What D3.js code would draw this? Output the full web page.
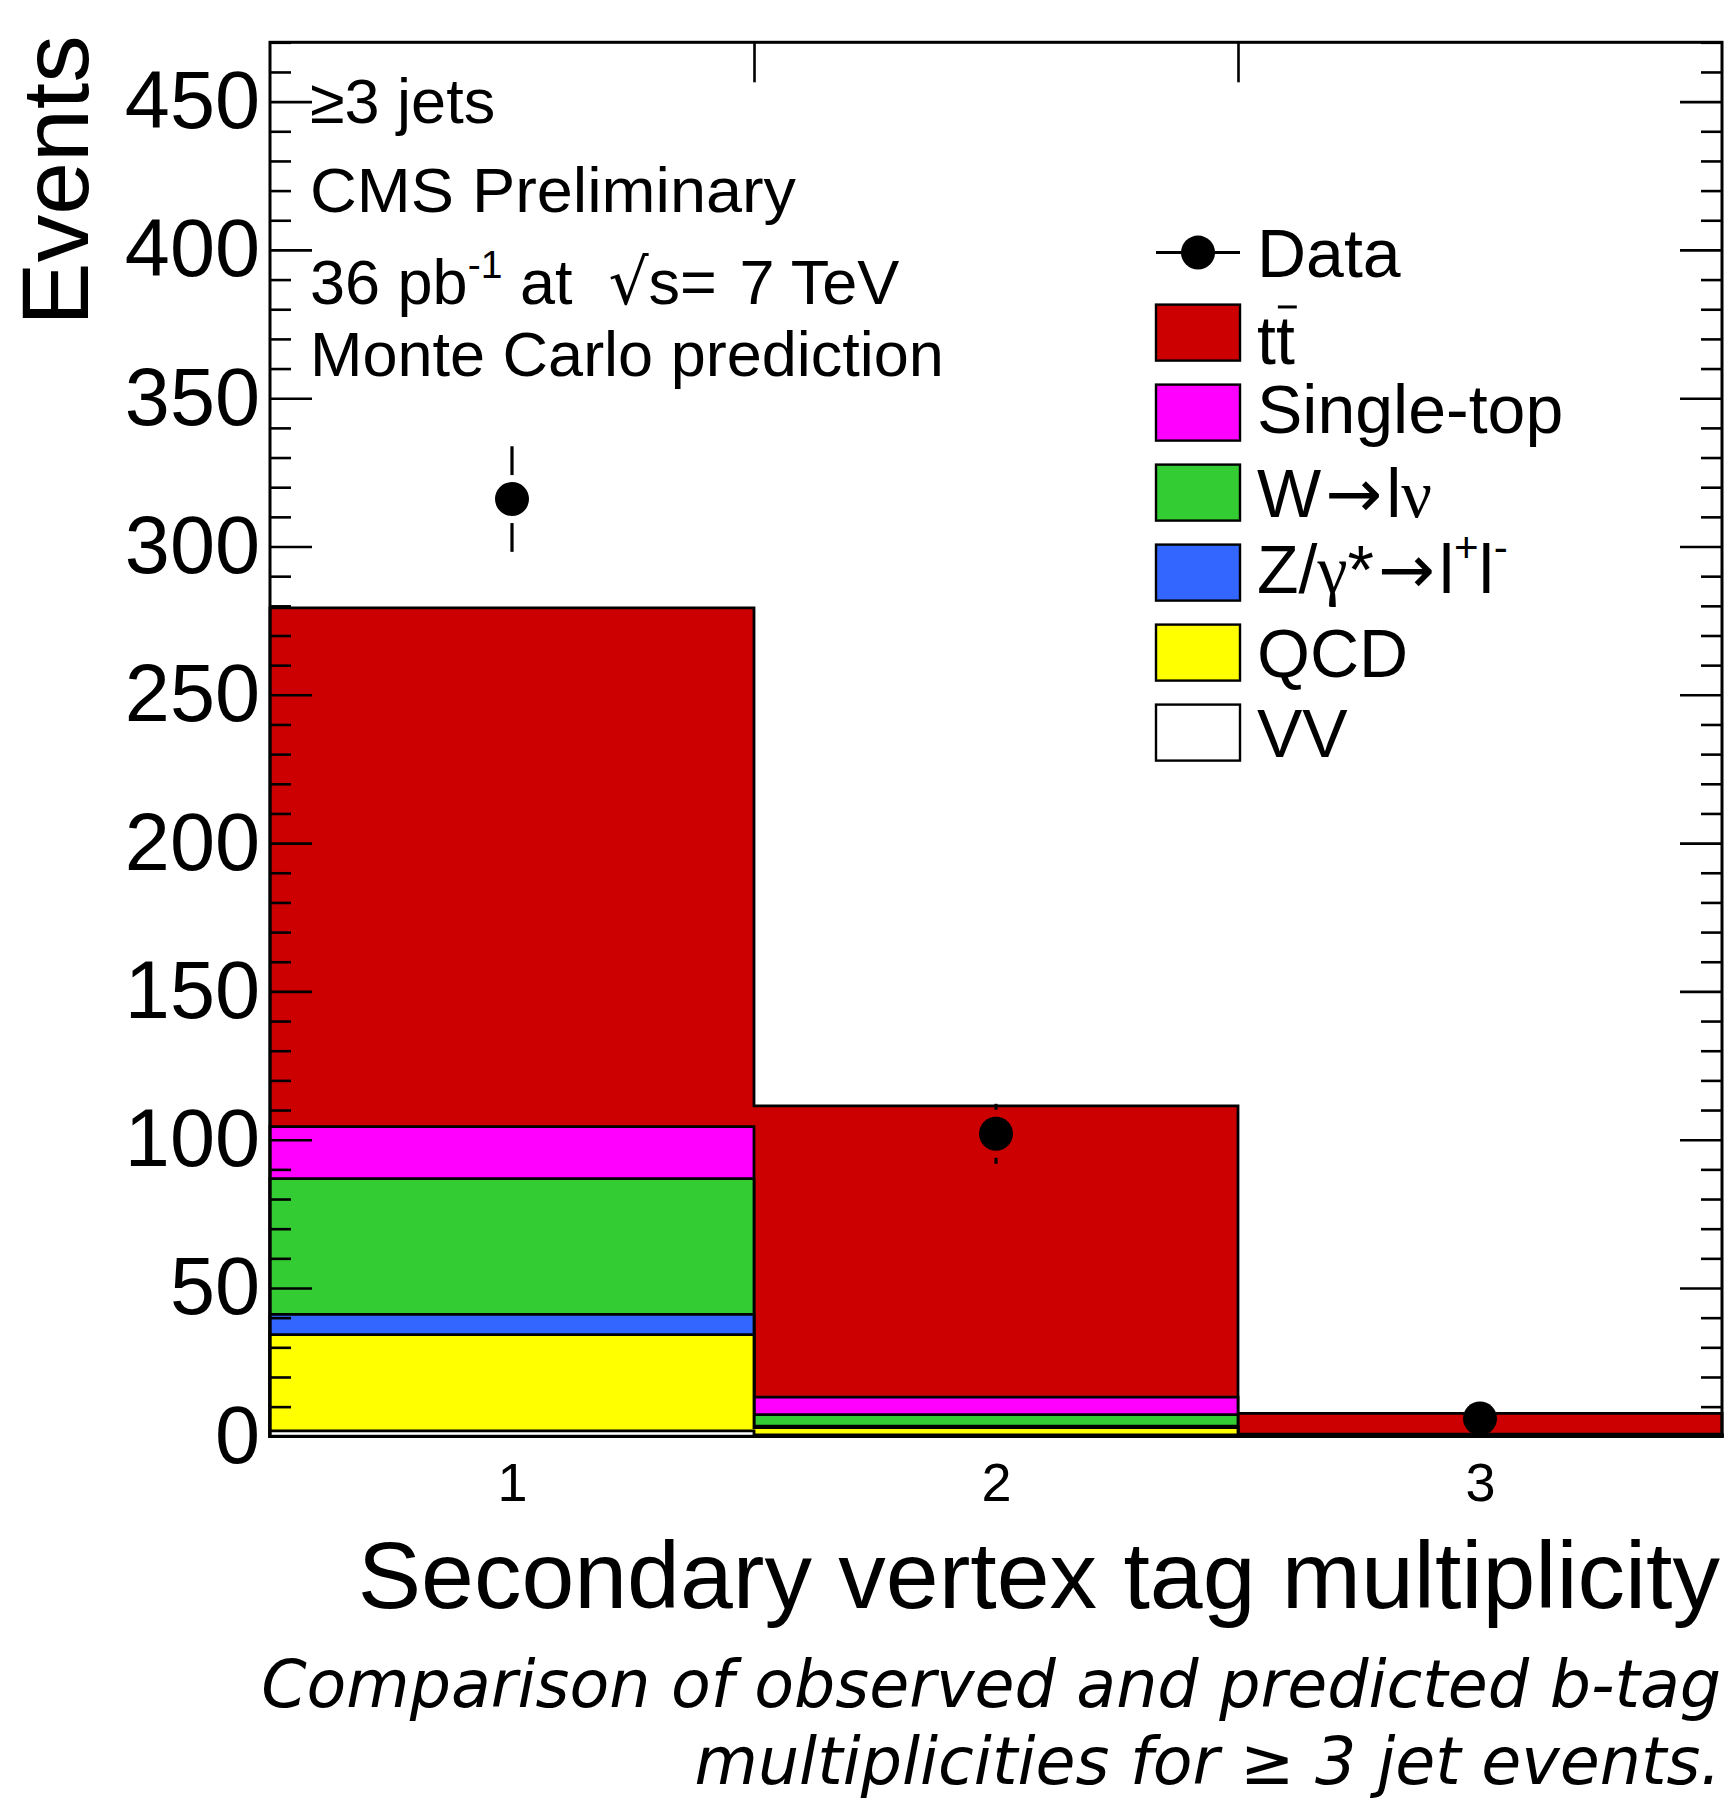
<!DOCTYPE html>
<html>
<head>
<meta charset="utf-8">
<script src="https://cdn.jsdelivr.net/npm/d3@7"></script>
<style>
  html, body { margin: 0; padding: 0; background: #fff; }
  svg { display: block; }
  text { font-family: "Liberation Sans", Arial, Helvetica, sans-serif; fill: #000; }
</style>
</head>
<body>
<svg id="chart" width="1730" height="1800"></svg>
<script>
// ---------------- data ----------------
const categories = ["1", "2", "3"];          // tag multiplicity bins
const binCenters = [1, 2, 3];
const vv        = [1.8, 0.5, 0.0];
const qcd       = [32.5, 2.4, 0.1];
const zll       = [6.8, 0.5, 0.0];
const wlv       = [45.8, 3.9, 0.2];
const singleTop = [17.5, 5.9, 0.4];
const ttbar     = [174.9, 98.2, 7.0];
const dataCounts = [316, 102, 6];
const dataErrors = [17.8, 10.1, 2.4];
const yTicks = [0, 50, 100, 150, 200, 250, 300, 350, 400, 450];
const yMinorTicks = d3.range(0, 471, 10);
const xEdges = [0.5, 1.5, 2.5, 3.5];

const seriesKeys   = ["vv", "qcd", "zll", "wlv", "singleTop", "ttbar"];
const seriesValues = { vv, qcd, zll, wlv, singleTop, ttbar };
const seriesColors = { vv: "#ffffff", qcd: "#ffff00", zll: "#3366ff", wlv: "#33cc33", singleTop: "#ff00ff", ttbar: "#cc0000" };

const legendKeys = ["data", "ttbar", "singleTop", "wlv", "zll", "qcd", "vv"];

const infoLines = ["≥3 jets", "CMS Preliminary", "36 pb-1 at √s= 7 TeV", "Monte Carlo prediction"];
const xTitle = "Secondary vertex tag multiplicity";
const yTitle = "Events";
const caption = ["Comparison of observed and predicted b-tag", "multiplicities for ≥ 3 jet events."];

// ---------------- layout ----------------
const svg = d3.select("#chart");
const frame = { left: 270, right: 1722, top: 42.3, bottom: 1436.3 };

const x = d3.scaleLinear().domain([0.5, 3.5]).range([frame.left, frame.right]);
const y = d3.scaleLinear().domain([0, 470]).range([frame.bottom, frame.top]);

const LW = 2.8;

// ---------------- stacked histogram ----------------
const rows = categories.map((c, i) => {
  const o = { bin: binCenters[i] };
  seriesKeys.forEach(k => o[k] = seriesValues[k][i]);
  return o;
});
const stack = d3.stack().keys(seriesKeys)(rows);

const line = d3.line().x(d => x(d[0])).y(d => y(d[1]));
const gStack = svg.append("g");
// draw top-most cumulative layer first (ROOT THStack style)
stack.slice().reverse().forEach(layer => {
  const pts = [[xEdges[0], 0]];
  layer.forEach((d, i) => {
    pts.push([xEdges[i], d[1]]);
    pts.push([xEdges[i + 1], d[1]]);
  });
  pts.push([xEdges[xEdges.length - 1], 0]);
  gStack.append("path")
    .attr("d", line(pts) + "Z")
    .attr("fill", seriesColors[layer.key])
    .attr("stroke", "#000")
    .attr("stroke-width", LW)
    .attr("stroke-linejoin", "miter");
});

// ---------------- data points ----------------
const MR = 17, GAP = 24;
const gData = svg.append("g");
dataCounts.forEach((v, i) => {
  const cx = x(binCenters[i]), cy = y(v);
  const up = y(v + dataErrors[i]), dn = y(v - dataErrors[i]);
  if (cy - up > GAP) gData.append("line").attr("x1", cx).attr("x2", cx).attr("y1", up).attr("y2", cy - GAP)
    .attr("stroke", "#000").attr("stroke-width", 3.2);
  if (dn - cy > GAP) gData.append("line").attr("x1", cx).attr("x2", cx).attr("y1", cy + GAP).attr("y2", dn)
    .attr("stroke", "#000").attr("stroke-width", 3.2);
  gData.append("circle").attr("cx", cx).attr("cy", cy).attr("r", MR).attr("fill", "#000");
});

// ---------------- axes ----------------
function styleAxis(g) {
  g.select(".domain").remove();
  g.selectAll(".tick line").attr("stroke", "#000").attr("stroke-width", 2.6);
}
// left major with labels
svg.append("g").attr("transform", `translate(${frame.left},0)`)
  .call(d3.axisLeft(y).tickValues(yTicks).tickSize(-42).tickPadding(10).tickFormat(d3.format("d")))
  .call(styleAxis)
  .call(g => g.selectAll("text").attr("font-size", 81).attr("font-family", "Liberation Sans, Arial, sans-serif").attr("fill", "#000"));
// left minor
svg.append("g").attr("transform", `translate(${frame.left},0)`)
  .call(d3.axisLeft(y).tickValues(yMinorTicks.filter(v => v % 50 !== 0)).tickSize(-21).tickFormat(""))
  .call(styleAxis);
// right major / minor
svg.append("g").attr("transform", `translate(${frame.right},0)`)
  .call(d3.axisRight(y).tickValues(yTicks).tickSize(-42).tickFormat(""))
  .call(styleAxis);
svg.append("g").attr("transform", `translate(${frame.right},0)`)
  .call(d3.axisRight(y).tickValues(yMinorTicks.filter(v => v % 50 !== 0)).tickSize(-21).tickFormat(""))
  .call(styleAxis);
// top ticks at bin edges
svg.append("g").attr("transform", `translate(0,${frame.top})`)
  .call(d3.axisTop(x).tickValues(xEdges.slice(1, -1)).tickSize(-40).tickFormat(""))
  .call(styleAxis);
// bottom labels at bin centres
svg.append("g").attr("transform", `translate(0,${frame.bottom})`)
  .call(d3.axisBottom(x).tickValues(binCenters).tickSize(0).tickPadding(26).tickFormat((d, i) => categories[i]))
  .call(styleAxis)
  .call(g => g.selectAll(".tick line").remove())
  .call(g => g.selectAll("text").attr("font-size", 54).attr("font-family", "Liberation Sans, Arial, sans-serif").attr("fill", "#000"));

// frame
svg.append("rect")
  .attr("x", frame.left).attr("y", frame.top)
  .attr("width", frame.right - frame.left).attr("height", frame.bottom - frame.top)
  .attr("fill", "none").attr("stroke", "#000").attr("stroke-width", 3);

// ---------------- titles ----------------
svg.append("text")
  .attr("transform", `translate(88,${frame.top - 7}) rotate(-90)`)
  .attr("text-anchor", "end")
  .attr("font-size", 95)
  .text(yTitle);

svg.append("text")
  .attr("x", 1720).attr("y", 1608)
  .attr("text-anchor", "end")
  .attr("font-size", 95)
  .text(xTitle);

caption.forEach((t, i) => {
  svg.append("text")
    .attr("x", 1721).attr("y", i === 0 ? 1707 : 1784)
    .attr("text-anchor", "end")
    .attr("font-size", 65)
    .style("font-family", "'DejaVu Sans', sans-serif")
    .style("font-style", "italic")
    .text(t);
});

// ---------------- info text ----------------
const infoY = [123, 212, 304, 376];
const infoFS = 63;
infoLines.forEach((t, i) => {
  const tx = svg.append("text").attr("x", 310).attr("y", infoY[i]).attr("font-size", infoFS);
  if (t.includes("pb-1")) {
    tx.append("tspan").text("36 pb");
    tx.append("tspan").attr("font-size", infoFS * 0.62).attr("dy", -infoFS * 0.42).text("-1");
    tx.append("tspan").attr("dy", infoFS * 0.42).text(" at");
    tx.append("tspan").attr("dx", 36).style("font-family", "'DejaVu Sans', sans-serif").text("√");
    tx.append("tspan").text("s=");
    tx.append("tspan").attr("dx", 5).text(" 7 TeV");
  } else if (t === "CMS Preliminary") {
    tx.attr("textLength", 486).attr("lengthAdjust", "spacingAndGlyphs").text(t);
  } else {
    tx.text(t);
  }
});

// ---------------- legend ----------------
const leg = { x: 1156, w: 84, h: 56, y0: 252.6, step: 80, tx: 1257, fs: 68 };
const gLeg = svg.append("g");
const greek = "'Liberation Serif', 'DejaVu Serif', serif";
const arrowFont = "'DejaVu Sans', sans-serif";
legendKeys.forEach((k, i) => {
  const cy = leg.y0 + i * leg.step;
  if (k === "data") {
    gLeg.append("line").attr("x1", leg.x).attr("x2", leg.x + leg.w).attr("y1", cy).attr("y2", cy)
      .attr("stroke", "#000").attr("stroke-width", 3);
    gLeg.append("circle").attr("cx", leg.x + leg.w / 2).attr("cy", cy).attr("r", MR).attr("fill", "#000");
  } else {
    gLeg.append("rect").attr("x", leg.x).attr("y", cy - leg.h / 2).attr("width", leg.w).attr("height", leg.h)
      .attr("fill", seriesColors[k]).attr("stroke", "#000").attr("stroke-width", 2.4);
  }
  const base = cy + leg.fs * 0.36;
  const t = gLeg.append("text").attr("x", leg.tx).attr("font-size", leg.fs);
  if (k === "data") t.attr("y", base).text("Data");
  else if (k === "ttbar") {
    t.attr("y", base + 7).text("tt");
    const n = t.node();
    const x0 = n.getStartPositionOfChar(1).x, x1 = n.getEndPositionOfChar(1).x;
    gLeg.append("line").attr("x1", x0 + 2).attr("x2", x1 + 2)
      .attr("y1", base + 7 - leg.fs * 0.84).attr("y2", base + 7 - leg.fs * 0.84)
      .attr("stroke", "#000").attr("stroke-width", 3);
  }
  else if (k === "singleTop") t.attr("y", base - 4).text("Single-top");
  else if (k === "wlv") {
    t.attr("y", base);
    t.append("tspan").text("W");
    t.append("tspan").attr("dx", 4).style("font-family", arrowFont).text("→");
    t.append("tspan").attr("dx", 4).text("l");
    t.append("tspan").style("font-family", greek).text("ν");
  }
  else if (k === "zll") {
    t.attr("y", base - 4);
    t.append("tspan").text("Z/");
    t.append("tspan").style("font-family", greek).text("γ");
    t.append("tspan").text("*");
    t.append("tspan").attr("dx", 4).style("font-family", arrowFont).text("→");
    t.append("tspan").attr("dx", 4).text("l");
    t.append("tspan").attr("font-size", leg.fs * 0.62).attr("dy", -leg.fs * 0.45).text("+");
    t.append("tspan").attr("dy", leg.fs * 0.45).text("l");
    t.append("tspan").attr("font-size", leg.fs * 0.62).attr("dy", -leg.fs * 0.45).text("-");
  }
  else if (k === "qcd") t.attr("y", base).text("QCD");
  else if (k === "vv") t.attr("y", base).text("VV");
});
</script>
</body>
</html>
